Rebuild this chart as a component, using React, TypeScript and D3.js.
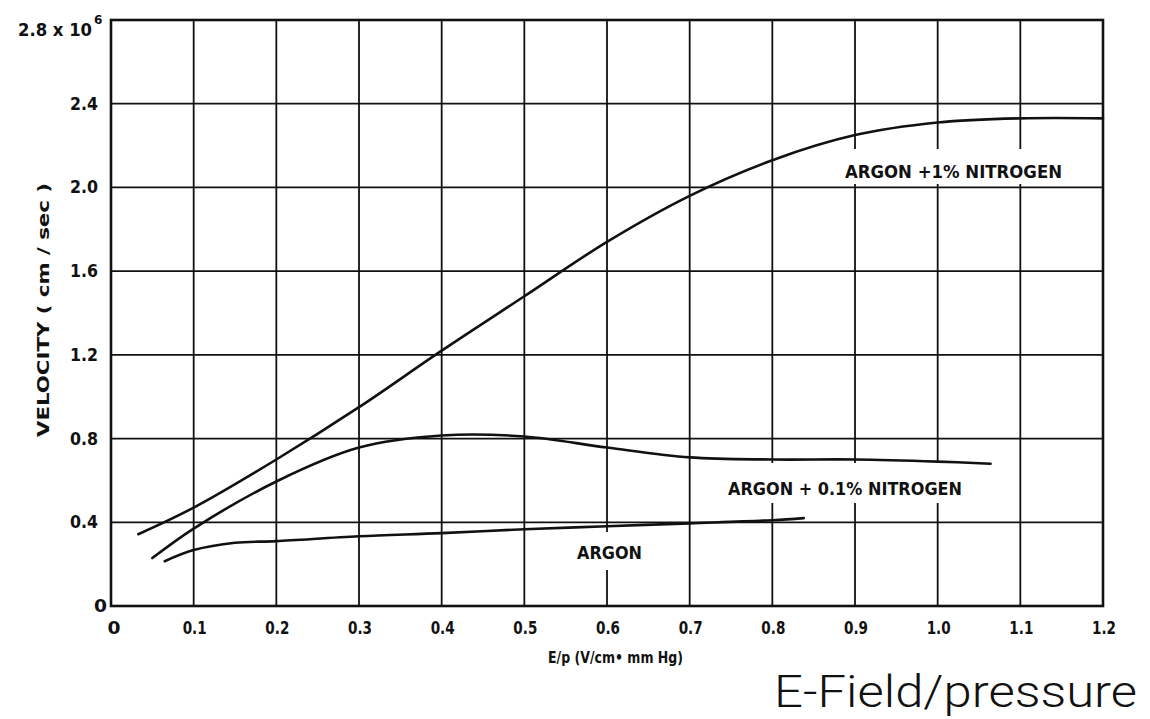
import React from "react";
import * as d3 from "d3";

// E/p values (V/cm mm Hg) and drift velocity (x10^6 cm/sec)
const nitrogen1X = [0.033, 0.1, 0.2, 0.3, 0.4, 0.5, 0.6, 0.7, 0.8, 0.9, 1.0, 1.1, 1.2];
const nitrogen1Y = [0.343, 0.47, 0.7, 0.95, 1.22, 1.48, 1.74, 1.96, 2.13, 2.25, 2.31, 2.33, 2.33];

const nitrogen01X = [0.05, 0.1, 0.2, 0.3, 0.4, 0.5, 0.6, 0.7, 0.8, 0.9, 1.0, 1.064];
const nitrogen01Y = [0.229, 0.37, 0.595, 0.757, 0.815, 0.81, 0.757, 0.71, 0.7, 0.7, 0.69, 0.68];

const argonX = [0.065, 0.1, 0.15, 0.2, 0.3, 0.4, 0.5, 0.6, 0.7, 0.8, 0.838];
const argonY = [0.214, 0.267, 0.302, 0.31, 0.333, 0.348, 0.367, 0.381, 0.395, 0.41, 0.42];

const xTicks = [0, 0.1, 0.2, 0.3, 0.4, 0.5, 0.6, 0.7, 0.8, 0.9, 1.0, 1.1, 1.2];
const xTickLabels = ["0", "0.1", "0.2", "0.3", "0.4", "0.5", "0.6", "0.7", "0.8", "0.9", "1.0", "1.1", "1.2"];
const yTicks = [0, 0.4, 0.8, 1.2, 1.6, 2.0, 2.4, 2.8];
const yTickLabels = ["0", "0.4", "0.8", "1.2", "1.6", "2.0", "2.4", "2.8"];

const curveLabels = ["ARGON +1% NITROGEN", "ARGON + 0.1% NITROGEN", "ARGON"];

const App = () => {
  const x = d3.scaleLinear().domain([0, 1.2]).range([111, 1103]);
  const y = d3.scaleLinear().domain([0, 2.8]).range([606, 20]);

  const line = d3
    .line<[number, number]>()
    .x((d) => x(d[0]))
    .y((d) => y(d[1]))
    .curve(d3.curveCatmullRom.alpha(0.5));

  const zip = (xs: number[], ys: number[]) => xs.map((v, i) => [v, ys[i]] as [number, number]);
  const series = [zip(nitrogen1X, nitrogen1Y), zip(nitrogen01X, nitrogen01Y), zip(argonX, argonY)];

  const ink = "#111";
  const font = "'DejaVu Sans', sans-serif";

  return (
    <div style={{ position: "absolute", left: 0, top: 0, background: "#fff" }}>
      <svg width={1150} height={719} style={{ display: "block" }}>
        <rect width={1150} height={719} fill="#fff" />
        {/* grid */}
        {xTicks.map((t) => (
          <line key={"gx" + t} x1={x(t)} x2={x(t)} y1={y(2.8)} y2={y(0)} stroke={ink} strokeWidth={1.8} />
        ))}
        {yTicks.map((t) => (
          <line key={"gy" + t} x1={x(0)} x2={x(1.2)} y1={y(t)} y2={y(t)} stroke={ink} strokeWidth={1.8} />
        ))}
        <rect x={x(0)} y={y(2.8)} width={x(1.2) - x(0)} height={y(0) - y(2.8)} fill="none" stroke={ink} strokeWidth={2.6} />

        {/* gaps in the grid behind the labels */}
        <rect x={842} y={149} width={224} height={35} fill="#fff" />
        <rect x={722} y={463} width={246} height={40} fill="#fff" />
        <rect x={572} y={532} width={76} height={38} fill="#fff" />

        {/* curves */}
        {series.map((s, i) => (
          <path key={i} d={line(s) || ""} fill="none" stroke={ink} strokeWidth={2.6} strokeLinecap="round" />
        ))}

        {/* curve labels */}
        <g fontFamily={font} fontWeight="bold" fontSize={17} fill={ink}>
          <text x={845} y={178} textLength={217} lengthAdjust="spacingAndGlyphs">{curveLabels[0]}</text>
          <text x={728} y={495} textLength={234} lengthAdjust="spacingAndGlyphs">{curveLabels[1]}</text>
          <text x={577} y={559} textLength={65} lengthAdjust="spacingAndGlyphs">{curveLabels[2]}</text>
        </g>

        {/* tick labels */}
        <g fontFamily={font} fontWeight="bold" fontSize={17} fill={ink}>
          {yTicks.slice(0, -1).map((t, i) => (
            <text
              key={"yl" + t}
              x={t === 0 ? 107 : 98}
              y={y(t) + 6}
              textAnchor="end"
              textLength={t === 0 ? 13 : 28}
              lengthAdjust="spacingAndGlyphs"
            >
              {yTickLabels[i]}
            </text>
          ))}
          <text x={18} y={36} textLength={74} lengthAdjust="spacingAndGlyphs">
            {yTickLabels[7] + " x 10"}
          </text>
          <text x={94} y={24} fontSize={12}>6</text>
          {xTicks.map((t, i) => (
            <text
              key={"xl" + t}
              x={x(t) + (t === 0 ? 3 : 1)}
              y={634}
              textAnchor="middle"
              textLength={t === 0 ? 13 : 24}
              lengthAdjust="spacingAndGlyphs"
            >
              {xTickLabels[i]}
            </text>
          ))}
        </g>

        {/* axis titles */}
        <text
          transform="translate(49,310) rotate(-90)"
          textAnchor="middle"
          fontFamily={font}
          fontWeight="bold"
          fontSize={16}
          fill={ink}
          textLength={254}
          lengthAdjust="spacingAndGlyphs"
        >
          VELOCITY  ( cm / sec )
        </text>
        <text
          x={548}
          y={663}
          fontFamily={font}
          fontWeight="bold"
          fontSize={16}
          fill={ink}
          textLength={135}
          lengthAdjust="spacingAndGlyphs"
        >
          E/p  (V/cm• mm Hg)
        </text>
        <text
          x={774}
          y={707}
          fontFamily="Roboto, 'Liberation Sans', sans-serif"
          fontWeight={300}
          fontSize={44}
          fill="#111"
          textLength={363}
          lengthAdjust="spacingAndGlyphs"
        >
          E-Field/pressure
        </text>
      </svg>
    </div>
  );
};

export default App;
